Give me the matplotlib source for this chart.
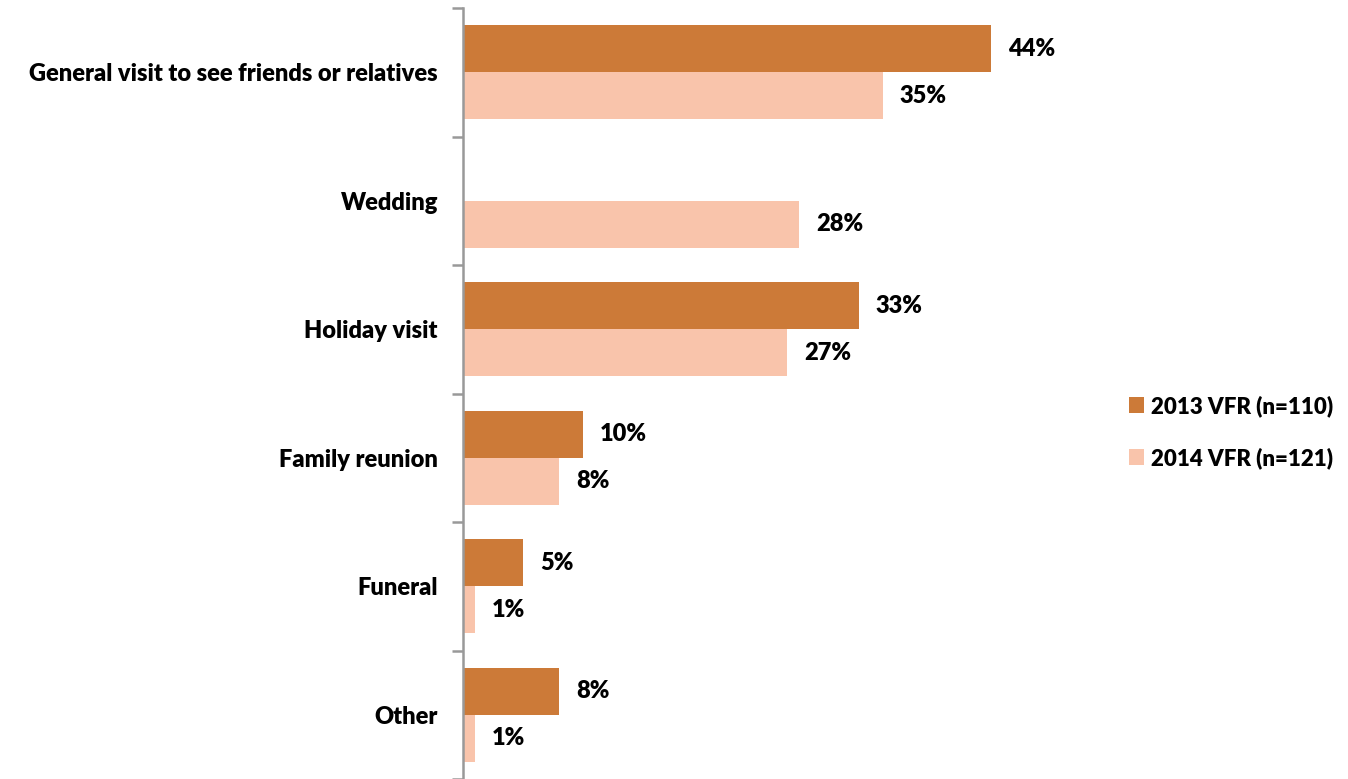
import numpy as np
import matplotlib.pyplot as plt

plt.rcParams['font.family'] = ['Lato', 'DejaVu Sans']
plt.rcParams['font.weight'] = 'bold'

# reasons for the VFR trip, top to bottom
categories = ['General visit to see friends or relatives', 'Wedding', 'Holiday visit',
              'Family reunion', 'Funeral', 'Other']
vfr_2013 = [44, np.nan, 33, 10, 5, 8]
vfr_2014 = [35, 28, 27, 8, 1, 1]
series_names = ['2013 VFR (n=110)', '2014 VFR (n=121)']
colors = ['#CC7A38', '#F9C4AB']

fig = plt.figure(figsize=(13.48, 7.79), dpi=100)
# axes box in pixels: left edge 463, top 8, one band = 128.5 px
ax = fig.add_axes([463/1348, (779 - 8 - 6*128.5)/779, 600/1348, 6*128.5/779])

n = len(categories)
pos = np.arange(n)
h = 0.365
off = 0.1825
fs = 17

for vals, sign, c, name in zip([vfr_2013, vfr_2014], [-1, 1], colors, series_names):
  v = np.array(vals, dtype=float)
  ax.barh(pos + sign*off, np.nan_to_num(v), height=h, color=c, label=name)
  for p, val in zip(pos, v):
    if np.isnan(val):
      continue
    ax.text(val + 1.4, p + sign*off, '%d%%' % val, va='center', ha='left',
            fontsize=fs, fontweight='heavy', color='black')

ax.set_xlim(0, 50)
ax.set_ylim(n - 0.5, -0.5)
ax.set_xticks([])

# category labels centred in each band, ticks on the band boundaries
ax.set_yticks(np.arange(n + 1) - 0.5)
ax.set_yticklabels([])
ax.set_yticks(pos, minor=True)
ax.set_yticklabels(categories, minor=True, fontsize=fs, fontweight='heavy')
ax.tick_params(axis='y', which='minor', length=0, pad=18)
ax.tick_params(axis='y', which='major', length=8, width=1.8, color='#999999')

for s in ['top', 'right', 'bottom']:
  ax.spines[s].set_visible(False)
ax.spines['left'].set_color('#999999')
ax.spines['left'].set_linewidth(1.8)

leg = fig.legend(loc='center left', bbox_to_anchor=(1122/1348, 1 - 432/779), frameon=False,
                 fontsize=16, handlelength=0.7, handleheight=0.7, handletextpad=0.3,
                 labelspacing=1.35, borderaxespad=0, borderpad=0.3)
for t in leg.get_texts():
  t.set_fontweight('heavy')

fig.savefig('out.png', dpi=100)
